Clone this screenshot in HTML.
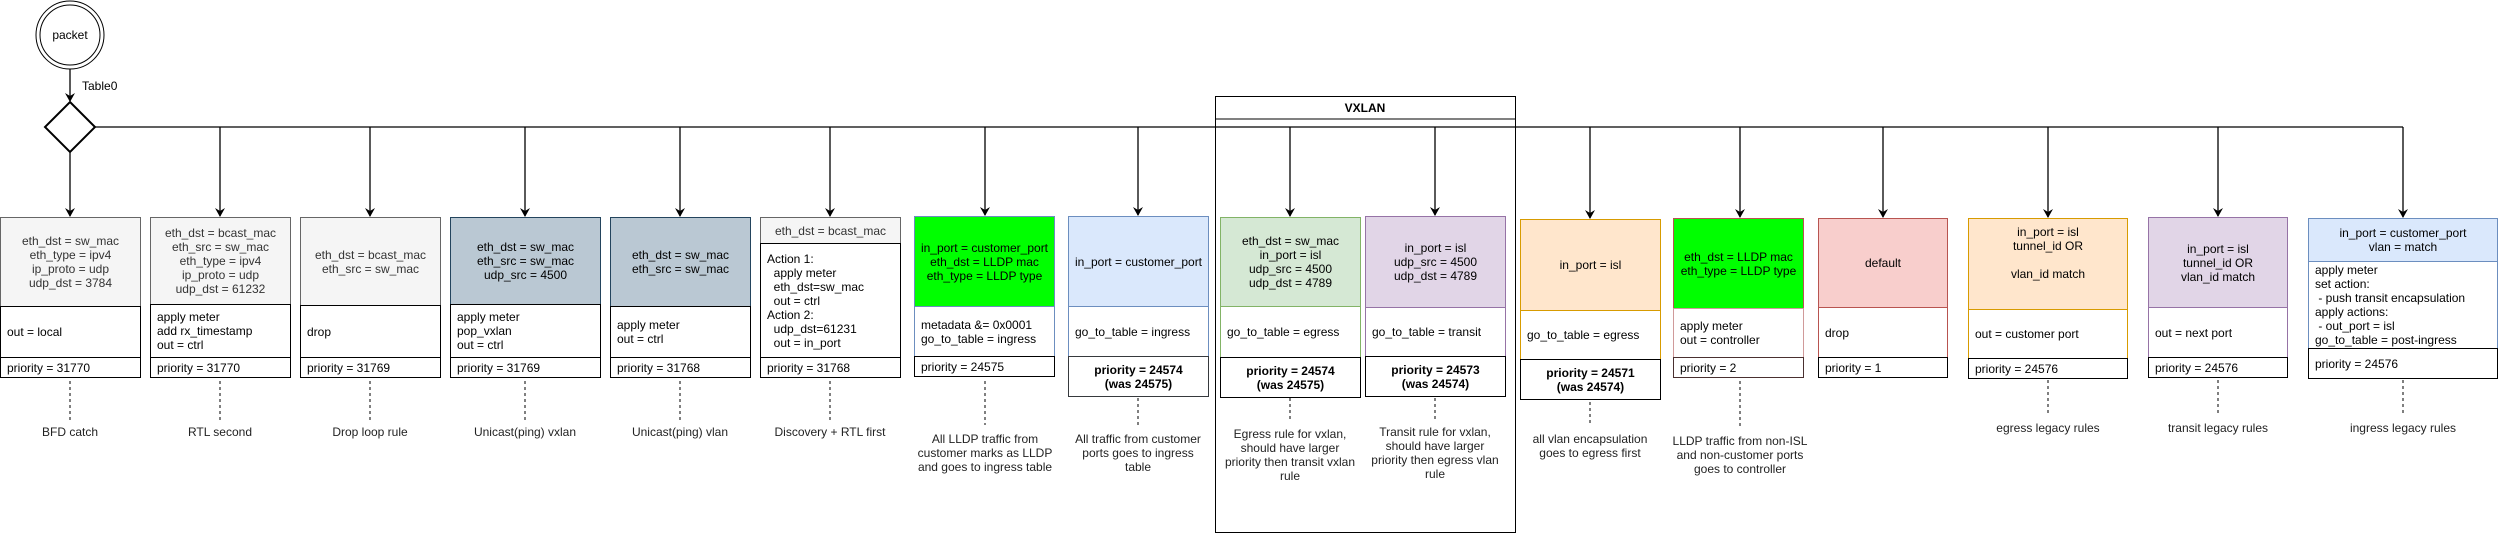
<!DOCTYPE html>
<html><head><meta charset="utf-8"><style>
*{box-sizing:border-box;margin:0;padding:0}
body{width:2499px;height:534px;background:#fff;position:relative;overflow:hidden;font-family:"Liberation Sans",sans-serif;font-size:12px;line-height:14px;color:#000}
.s{position:absolute;display:flex;align-items:center;border:1px solid}
.h{justify-content:center;text-align:center}
.a{padding-left:6px;background:#fff;white-space:pre}
.p{padding-left:6px;background:#fff;border:1.5px solid #000}
.pb{justify-content:center;text-align:center;font-weight:bold;background:#fff;border:1.5px solid #000}
.l{position:absolute;text-align:center;color:#222;white-space:nowrap}
svg{position:absolute;left:0;top:0}
</style></head><body>
<svg width="2499" height="534">
<defs><marker id="ar" markerWidth="10" markerHeight="10" refX="8" refY="5" orient="auto" markerUnits="userSpaceOnUse"><path d="M0,0 L9,5 L0,10 L3,5 z" fill="#000"/></marker></defs>
<circle cx="70" cy="35" r="34" fill="#fff" stroke="#000" stroke-width="1"/>
<circle cx="70" cy="35" r="30" fill="#fff" stroke="#000" stroke-width="1"/>
<text x="70" y="39" text-anchor="middle" font-family="Liberation Sans" font-size="12">packet</text>
<line x1="70" y1="69" x2="70" y2="101" stroke="#000" stroke-width="1.3" marker-end="url(#ar)"/>
<text x="82" y="90" font-family="Liberation Sans" font-size="12">Table0</text>
<polygon points="70,102 95,127 70,152 45,127" fill="#fff" stroke="#000" stroke-width="2"/>
<line x1="95" y1="127" x2="2403" y2="127" stroke="#000" stroke-width="1.3"/>
<line x1="70" y1="152" x2="70" y2="216" stroke="#000" stroke-width="1.3" marker-end="url(#ar)"/>
<g stroke="#000" stroke-width="1.3" marker-end="url(#ar)">
<line x1="220" y1="127" x2="220" y2="216"/>
<line x1="370" y1="127" x2="370" y2="216"/>
<line x1="525" y1="127" x2="525" y2="216"/>
<line x1="680" y1="127" x2="680" y2="216"/>
<line x1="830" y1="127" x2="830" y2="216"/>
<line x1="985" y1="127" x2="985" y2="215"/>
<line x1="1138" y1="127" x2="1138" y2="215"/>
<line x1="1290" y1="127" x2="1290" y2="216"/>
<line x1="1435" y1="127" x2="1435" y2="215"/>
<line x1="1590" y1="127" x2="1590" y2="218"/>
<line x1="1740" y1="127" x2="1740" y2="217"/>
<line x1="1883" y1="127" x2="1883" y2="217"/>
<line x1="2048" y1="127" x2="2048" y2="217"/>
<line x1="2218" y1="127" x2="2218" y2="216"/>
<line x1="2403" y1="127" x2="2403" y2="217"/>
</g>
<rect x="1215.5" y="96.5" width="300" height="436" fill="none" stroke="#000" stroke-width="1"/>
<line x1="1215.5" y1="119" x2="1515.5" y2="119" stroke="#000" stroke-width="1"/>
<text x="1365" y="112" text-anchor="middle" font-family="Liberation Sans" font-size="12" font-weight="bold">VXLAN</text>
<g stroke="#000" stroke-width="1" stroke-dasharray="3,3">
<line x1="70" y1="381" x2="70" y2="420"/>
<line x1="220" y1="381" x2="220" y2="420"/>
<line x1="370" y1="381" x2="370" y2="420"/>
<line x1="525" y1="381" x2="525" y2="420"/>
<line x1="680" y1="381" x2="680" y2="420"/>
<line x1="830" y1="381" x2="830" y2="420"/>
<line x1="985" y1="381" x2="985" y2="425"/>
<line x1="1138" y1="398" x2="1138" y2="425"/>
<line x1="1290" y1="398" x2="1290" y2="422"/>
<line x1="1435" y1="398" x2="1435" y2="420"/>
<line x1="1590" y1="402" x2="1590" y2="425"/>
<line x1="1740" y1="381" x2="1740" y2="427"/>
<line x1="2048" y1="380" x2="2048" y2="414"/>
<line x1="2218" y1="380" x2="2218" y2="414"/>
<line x1="2403" y1="380" x2="2403" y2="414"/>
</g>
</svg>

<!-- box1 -->
<div class="s h" style="left:0;top:217px;width:141px;height:90px;background:#f5f5f5;border-color:#666;color:#333">eth_dst = sw_mac<br>eth_type = ipv4<br>ip_proto = udp<br>udp_dst = 3784</div>
<div class="s a" style="left:0;top:306px;width:141px;height:52px;border-color:#000">out = local</div>
<div class="s p" style="left:0;top:357px;width:141px;height:21px">priority = 31770</div>
<!-- box2 -->
<div class="s h" style="left:150px;top:217px;width:141px;height:88px;background:#f5f5f5;border-color:#666;color:#333">eth_dst = bcast_mac<br>eth_src = sw_mac<br>eth_type = ipv4<br>ip_proto = udp<br>udp_dst = 61232</div>
<div class="s a" style="left:150px;top:304px;width:141px;height:54px;border-color:#000">apply meter
add rx_timestamp
out = ctrl</div>
<div class="s p" style="left:150px;top:357px;width:141px;height:21px">priority = 31770</div>
<!-- box3 -->
<div class="s h" style="left:300px;top:217px;width:141px;height:89px;background:#f5f5f5;border-color:#666;color:#333">eth_dst = bcast_mac<br>eth_src = sw_mac</div>
<div class="s a" style="left:300px;top:305px;width:141px;height:53px;border-color:#000">drop</div>
<div class="s p" style="left:300px;top:357px;width:141px;height:21px">priority = 31769</div>
<!-- box4 -->
<div class="s h" style="left:450px;top:217px;width:151px;height:88px;background:#bac8d3;border-color:#23445d">eth_dst = sw_mac<br>eth_src = sw_mac<br>udp_src = 4500</div>
<div class="s a" style="left:450px;top:304px;width:151px;height:54px;border-color:#000">apply meter
pop_vxlan
out = ctrl</div>
<div class="s p" style="left:450px;top:357px;width:151px;height:21px">priority = 31769</div>
<!-- box5 -->
<div class="s h" style="left:610px;top:217px;width:141px;height:90px;background:#bac8d3;border-color:#23445d">eth_dst = sw_mac<br>eth_src = sw_mac</div>
<div class="s a" style="left:610px;top:306px;width:141px;height:52px;border-color:#000">apply meter
out = ctrl</div>
<div class="s p" style="left:610px;top:357px;width:141px;height:21px">priority = 31768</div>
<!-- box6 -->
<div class="s h" style="left:760px;top:217px;width:141px;height:27px;background:#f5f5f5;border-color:#666;color:#333">eth_dst = bcast_mac</div>
<div class="s a" style="left:760px;top:243px;width:141px;height:115px;border-color:#000">Action 1:
  apply meter
  eth_dst=sw_mac
  out = ctrl
Action 2:
  udp_dst=61231
  out = in_port</div>
<div class="s p" style="left:760px;top:357px;width:141px;height:21px">priority = 31768</div>
<!-- box7 green -->
<div class="s h" style="left:914px;top:216px;width:141px;height:91px;background:#00ff00;border-color:#6c8ebf">in_port = customer_port<br>eth_dst = LLDP mac<br>eth_type = LLDP type</div>
<div class="s a" style="left:914px;top:306px;width:141px;height:51px;border-color:#6c8ebf">metadata &amp;= 0x0001
go_to_table = ingress</div>
<div class="s p" style="left:914px;top:356px;width:141px;height:21px">priority = 24575</div>
<!-- box8 blue -->
<div class="s h" style="left:1068px;top:216px;width:141px;height:91px;background:#dae8fc;border-color:#6c8ebf">in_port = customer_port</div>
<div class="s a" style="left:1068px;top:306px;width:141px;height:51px;border-color:#6c8ebf">go_to_table = ingress</div>
<div class="s pb" style="left:1068px;top:356px;width:141px;height:41px;border-color:#36393d">priority = 24574<br>(was 24575)</div>
<!-- box9 vx green -->
<div class="s h" style="left:1220px;top:217px;width:141px;height:90px;background:#d5e8d4;border-color:#82b366">eth_dst = sw_mac<br>in_port = isl<br>udp_src = 4500<br>udp_dst = 4789</div>
<div class="s a" style="left:1220px;top:306px;width:141px;height:52px;border-color:#82b366">go_to_table = egress</div>
<div class="s pb" style="left:1220px;top:357px;width:141px;height:41px">priority = 24574<br>(was 24575)</div>
<!-- box10 purple -->
<div class="s h" style="left:1365px;top:216px;width:141px;height:92px;background:#e1d5e7;border-color:#9673a6">in_port = isl<br>udp_src = 4500<br>udp_dst = 4789</div>
<div class="s a" style="left:1365px;top:307px;width:141px;height:50px;border-color:#9673a6">go_to_table = transit</div>
<div class="s pb" style="left:1365px;top:356px;width:141px;height:41px">priority = 24573<br>(was 24574)</div>
<!-- box11 orange -->
<div class="s h" style="left:1520px;top:219px;width:141px;height:92px;background:#ffe6cc;border-color:#d79b00">in_port = isl</div>
<div class="s a" style="left:1520px;top:310px;width:141px;height:50px;border-color:#d79b00">go_to_table = egress</div>
<div class="s pb" style="left:1520px;top:359px;width:141px;height:41px">priority = 24571<br>(was 24574)</div>
<!-- box12 green2 -->
<div class="s h" style="left:1673px;top:218px;width:131px;height:91px;background:#00ff00;border-color:#b85450">eth_dst = LLDP mac<br>eth_type = LLDP type</div>
<div class="s a" style="left:1673px;top:308px;width:131px;height:50px;border-color:#d09a9a">apply meter
out = controller</div>
<div class="s p" style="left:1673px;top:357px;width:131px;height:21px;border-color:#4a3030">priority = 2</div>
<!-- box13 default -->
<div class="s h" style="left:1818px;top:218px;width:130px;height:90px;background:#f8cecc;border-color:#b85450">default</div>
<div class="s a" style="left:1818px;top:307px;width:130px;height:51px;border-color:#b85450">drop</div>
<div class="s p" style="left:1818px;top:357px;width:130px;height:21px">priority = 1</div>
<!-- box14 orange2 -->
<div class="s h" style="left:1968px;top:218px;width:160px;height:92px;background:#ffe6cc;border-color:#d79b00;align-items:flex-start;padding-top:6px">in_port = isl<br>tunnel_id OR<br><br>vlan_id match</div>
<div class="s a" style="left:1968px;top:309px;width:160px;height:50px;border-color:#d79b00">out = customer port</div>
<div class="s p" style="left:1968px;top:358px;width:160px;height:21px">priority = 24576</div>
<!-- box15 purple2 -->
<div class="s h" style="left:2148px;top:217px;width:140px;height:91px;background:#e1d5e7;border-color:#9673a6">in_port = isl<br>tunnel_id OR<br>vlan_id match</div>
<div class="s a" style="left:2148px;top:307px;width:140px;height:51px;border-color:#9673a6">out = next port</div>
<div class="s p" style="left:2148px;top:357px;width:140px;height:21px">priority = 24576</div>
<!-- box16 blue2 -->
<div class="s h" style="left:2308px;top:218px;width:190px;height:44px;background:#dae8fc;border-color:#6c8ebf">in_port = customer_port<br>vlan = match</div>
<div class="s a" style="left:2308px;top:261px;width:190px;height:88px;border-color:#6c8ebf">apply meter
set action:
 - push transit encapsulation
apply actions:
 - out_port = isl
go_to_table = post-ingress</div>
<div class="s p" style="left:2308px;top:348px;width:190px;height:31px">priority = 24576</div>

<!-- labels -->
<div class="l" style="left:0;width:140px;top:425px">BFD catch</div>
<div class="l" style="left:150px;width:140px;top:425px">RTL second</div>
<div class="l" style="left:300px;width:140px;top:425px">Drop loop rule</div>
<div class="l" style="left:445px;width:160px;top:425px">Unicast(ping) vxlan</div>
<div class="l" style="left:600px;width:160px;top:425px">Unicast(ping) vlan</div>
<div class="l" style="left:750px;width:160px;top:425px">Discovery + RTL first</div>
<div class="l" style="left:905px;width:160px;top:432px">All LLDP traffic from<br>customer marks as LLDP<br>and goes to ingress table</div>
<div class="l" style="left:1063px;width:150px;top:432px;white-space:normal">All traffic from customer<br>ports goes to ingress<br>table</div>
<div class="l" style="left:1215px;width:150px;top:427px">Egress rule for vxlan,<br>should have larger<br>priority then transit vxlan<br>rule</div>
<div class="l" style="left:1360px;width:150px;top:425px">Transit rule for vxlan,<br>should have larger<br>priority then egress vlan<br>rule</div>
<div class="l" style="left:1515px;width:150px;top:432px">all vlan encapsulation<br>goes to egress first</div>
<div class="l" style="left:1665px;width:150px;top:434px">LLDP traffic from non-ISL<br>and non-customer ports<br>goes to controller</div>
<div class="l" style="left:1968px;width:160px;top:421px">egress legacy rules</div>
<div class="l" style="left:2138px;width:160px;top:421px">transit legacy rules</div>
<div class="l" style="left:2323px;width:160px;top:421px">ingress legacy rules</div>
</body></html>
